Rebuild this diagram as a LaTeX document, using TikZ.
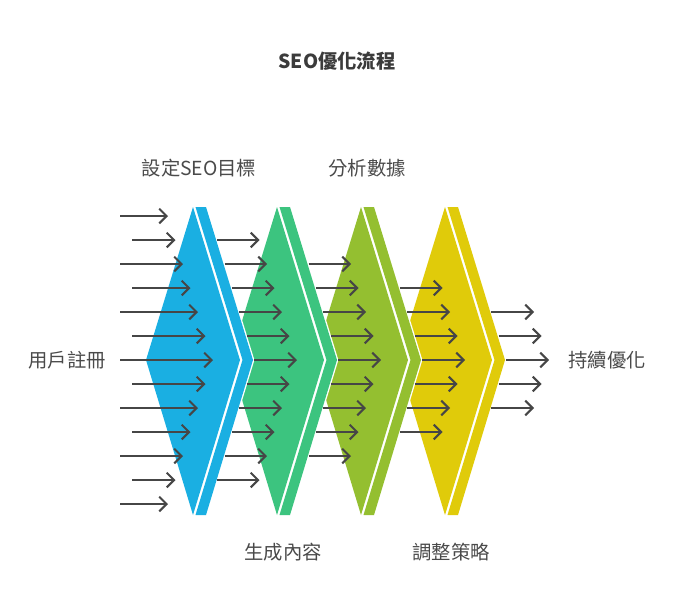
\documentclass[tikz,border=0pt]{standalone}
\usepackage{fontspec}
\setmainfont{Noto Sans CJK TC}
\usetikzlibrary{arrows.meta}
\definecolor{cblue}{HTML}{1AAFE2}
\definecolor{cgreen}{HTML}{3CC47F}
\definecolor{colive}{HTML}{94BF30}
\definecolor{cyellow}{HTML}{E0CB0A}
\definecolor{ink}{HTML}{464646}
\definecolor{txt}{HTML}{4A4A4A}
\begin{document}
\begin{tikzpicture}[x=0.75pt,y=-0.75pt,
  flow/.style={draw=ink,line width=1.5pt,-{Straight Barb[length=5.5pt,width=11pt]}},
  lbl/.style={text=txt,font=\fontsize{14.5pt}{17pt}\selectfont,inner sep=0pt},
  ttl/.style={text=txt!80!black,font=\fontsize{14.5pt}{17pt}\selectfont\bfseries,inner sep=0pt},
  halo/.style={fill=white,draw=white,line width=2pt,line join=round}]
\useasboundingbox (0,0) rectangle (674,614);
% chevron shapes (drawn back to front)
\foreach \j/\col in {3/cyellow,2/colive,1/cgreen,0/cblue}{
  \pgfmathsetmacro\a{193+84*\j}
  \fill[halo] (\a,207) -- (\a+13,207) -- (\a+60,360) -- (\a+13,515) -- (\a,515) -- (\a-47,360) -- cycle;
  \fill[\col] (\a,207) -- (\a+47,360) -- (\a,515) -- (\a-47,360) -- cycle;
  \fill[\col] (\a+2.5,207) -- (\a+13,207) -- (\a+60,360) -- (\a+13,515) -- (\a+2.5,515) -- (\a+49.5,360) -- cycle;
}
% arrows
\foreach \j/\km in {0/6,1/5,2/4,3/3,4/2}{
  \foreach \k in {-\km,...,\km}{
    \pgfmathsetmacro\ak{abs(\k)}
    \pgfmathsetmacro\sx{\j==0 ? (mod(\ak,2)==0 ? 120 : 132) : (254+84*(\j-1)-7.37*\ak)}
    \pgfmathsetmacro\ex{213+84*\j-7.5*\ak}
    \pgfmathtruncatemacro\idx{\k+6}
    \coordinate (s\j-\idx) at (\sx,360+24*\k);
    \coordinate (e\j-\idx) at (\ex,360+24*\k);
    \draw[flow] (s\j-\idx) -- (e\j-\idx);
  }
}
% texts
\node[ttl] (title) at (337,61) {SEO優化流程};
\node[lbl] (l1) at (199,168) {設定SEO目標};
\node[lbl] (l2) at (367,168) {分析數據};
\node[lbl] (l3) at (283,552) {生成內容};
\node[lbl] (l4) at (451,552) {調整策略};
\node[lbl] (in) at (67,360) {用戶註冊};
\node[lbl] (out) at (607,360) {持續優化};
\end{tikzpicture}
\end{document}
